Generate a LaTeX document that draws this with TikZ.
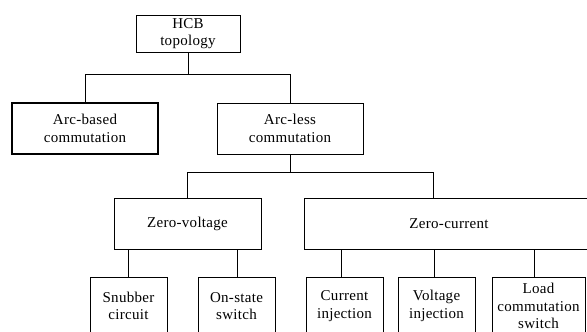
\documentclass[tikz,border=0pt]{standalone}
\usepackage{fontspec}
\setmainfont{Liberation Serif}[LetterSpace=2]
\begin{document}
\begin{tikzpicture}[x=1pt,y=-1pt,
  box/.style={draw, line width=0.9pt, align=center, inner sep=0pt, font=\fontsize{15}{17.5}\selectfont},
  bottombox/.style={box, minimum width=77, minimum height=58},
  link/.style={line width=0.9pt}]
\useasboundingbox (0,0) rectangle (587,332);
\clip (0,0) rectangle (587,332);
\node[box, minimum width=104, minimum height=37] (hcb) at (188,33.5) {HCB\\topology};
\node[box, line width=1.8pt, minimum width=146, minimum height=51] (ab) at (85,128.5) {Arc-based\\commutation};
\node[box, minimum width=146, minimum height=51] (al) at (290,128.5) {Arc-less\\commutation};
\node[box, minimum width=147, minimum height=51] (zv) at (187.5,223.5) {Zero-voltage};
\node[box, minimum width=290, minimum height=51] (zc) at (449,223.5) {Zero-current};
\node[bottombox] (sn) at (128.5,306) {Snubber\\circuit};
\node[bottombox] (os) at (236.5,306) {On-state\\switch};
\node[bottombox] (ci) at (344.5,306) {Current\\injection};
\node[bottombox] (vi) at (436.5,306) {Voltage\\injection};
\node[bottombox, minimum width=93] (lc) at (538.5,306) {Load\\commutation\\switch};
\draw[link] (hcb.south) -- ++(0,22) coordinate (j1);
\draw[link] (ab.north) |- (j1) -| (al.north);
\draw[link] (al.south) -- ++(0,18) coordinate (j2);
\draw[link] (zv.north) |- (j2) -| ([xshift=-16pt]zc.north);
\draw[link] ([xshift=-0.5pt]sn.north) -- ([xshift=-0.5pt]sn.north |- zv.south);
\draw[link] ([xshift=0.5pt]os.north) -- ([xshift=0.5pt]os.north |- zv.south);
\draw[link] ([xshift=-3.5pt]ci.north) -- ([xshift=-3.5pt]ci.north |- zc.south);
\draw[link] ([xshift=-2.5pt]vi.north) -- ([xshift=-2.5pt]vi.north |- zc.south);
\draw[link] ([xshift=-4.5pt]lc.north) -- ([xshift=-4.5pt]lc.north |- zc.south);
\end{tikzpicture}
\end{document}
